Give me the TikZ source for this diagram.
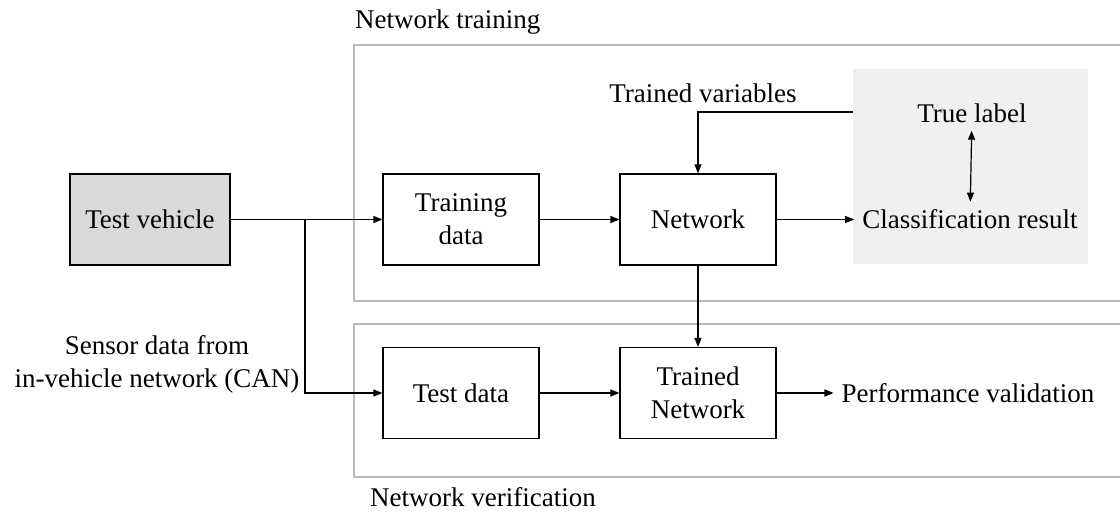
\documentclass[tikz,border=0pt]{standalone}
\usepackage{fontspec}
\setmainfont{Liberation Serif}
\usetikzlibrary{arrows.meta}

\begin{document}
\begin{tikzpicture}[x=1pt, y=-1pt, font=\fontsize{27}{33}\selectfont,
    >={Triangle[length=9pt, width=7pt]}]
    \tikzset{
      block/.style={draw, line width=1.2pt, minimum width=156pt,
        minimum height=91pt, inner sep=0pt, align=center},
      frame/.style={draw=black!27, line width=1.5pt},
      link/.style={line width=1.2pt, ->},
      caption/.style={inner sep=8pt, align=center},
    }
    \useasboundingbox (0,0) rectangle (1120,513);

    % the two groups, open to the right
    \draw[frame] (1130,45) -| (354,301) -- (1130,301);
    \draw[frame] (1130,324) -| (354,477) -- (1130,477);
    \node[anchor=west, inner sep=0pt] (traincap) at (355,22) {Network training};
    \node[anchor=west, inner sep=0pt] (verifcap) at (370,497) {Network verification};

    \node[fill=black!6, minimum width=235pt, minimum height=195pt] (truth) at (970.5,166.5) {};

    \node[block, fill=black!15, minimum width=160pt] (vehicle) at (150,219.5) {Test vehicle};
    \path
    foreach \name/\x/\y/\txt in {
      traindata/461/219.5/Training\\data,
      net/698/219.5/Network,
      testdata/461/393/Test data,
      trainednet/698/393/Trained\\Network
    } { (\x,\y) node[block] (\name) {\txt} };

    \node[caption] (truelabel) at (972,113) {True label};
    \node[caption] (result) at (970,219.5) {Classification result};
    \node[caption] (perf) at (968,393) {Performance validation};
    \node[inner sep=0pt] (trainvars) at (703,93) {Trained variables};
    \node[inner sep=0pt, align=center] (sensor) at (157,364) {Sensor data from\\in-vehicle network (CAN)};

    \coordinate (split) at (305,219.5);
    \draw[link] (vehicle) -- (traindata);
    \draw[link] (split) |- (testdata);
    \draw[link] (traindata) -- (net);
    \draw[link] (testdata) -- (trainednet);
    \draw[link] (net) -- (result);
    \draw[link] (net) -- (trainednet);
    \draw[link] (trainednet) -- (perf);
    \draw[link] (truth.west |- 0,112) -| (net);
    \draw[line width=1.2pt, <->] (truelabel) -- (result);
  \end{tikzpicture}
\end{document}
